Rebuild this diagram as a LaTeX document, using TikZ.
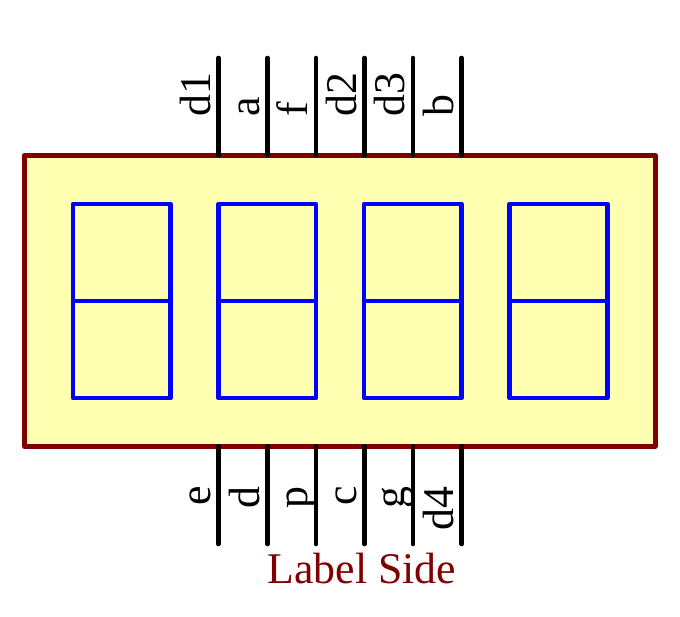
\documentclass[tikz,border=0pt]{standalone}
\usepackage{fontspec}
\setmainfont{Liberation Serif}
\definecolor{darkred}{RGB}{128,0,0}
\definecolor{paleyellow}{RGB}{255,255,178}
\definecolor{segblue}{RGB}{0,0,255}
\tikzset{
  housing/.style={draw=darkred,fill=paleyellow,line width=4.6pt,line join=round,inner sep=0pt,outer sep=0pt,minimum width=631pt,minimum height=291pt},
  digitbox/.style={draw=segblue,line width=4.6pt,line join=round,inner sep=0pt,outer sep=0pt,minimum width=97.5pt,minimum height=194pt},
  midbar/.style={draw=segblue,line width=4.6pt},
  pin/.style={draw=black,line width=4.6pt,line cap=round},
  pinlabel/.style={inner sep=0pt,outer sep=0pt,rotate=90,font=\fontsize{43.8}{46}\selectfont},
  toplabel/.style={pinlabel,anchor=base west},
  botlabel/.style={pinlabel,anchor=base east},
  sidelabel/.style={inner sep=0pt,outer sep=0pt,text=darkred,font=\fontsize{43.8}{46}\selectfont}
}
\begin{document}
\begin{tikzpicture}[x=1pt,y=-1pt]
\useasboundingbox (0,0) rectangle (680,617);
\node[housing] (body) at (339.75,300.75) {};
\foreach \n/\cx in {1/121.75,2/267.25,3/412.75,4/558.5}{
  \node[digitbox] (dig\n) at (\cx,301) {};
  \draw[midbar] (dig\n.west) -- (dig\n.east);
}
\foreach \n/\px/\lab in {1/218.5/d1,2/267.5/a,3/316/f,4/364.5/d2,5/413/d3,6/461.5/b}{
  \coordinate (tt\n) at (\px,58);
  \coordinate (tb\n) at (\px,155.25);
  \draw[pin] (tt\n) -- (tb\n);
  \node[toplabel] (tl\n) at (\px-8.5,116.5) {\lab};
}
\foreach \n/\px/\lab in {1/218.5/e,2/267.5/d,3/316/p,4/364.5/c,5/413/g,6/461.5/d4}{
  \coordinate (bt\n) at (\px,446.25);
  \coordinate (bb\n) at (\px,544);
  \draw[pin] (bt\n) -- (bb\n);
  \node[botlabel] (bl\n) at (\px-8.5,486.5) {\lab};
}
\node[sidelabel,anchor=base] (side) at (362,583) {Label Side};
\end{tikzpicture}
\end{document}
